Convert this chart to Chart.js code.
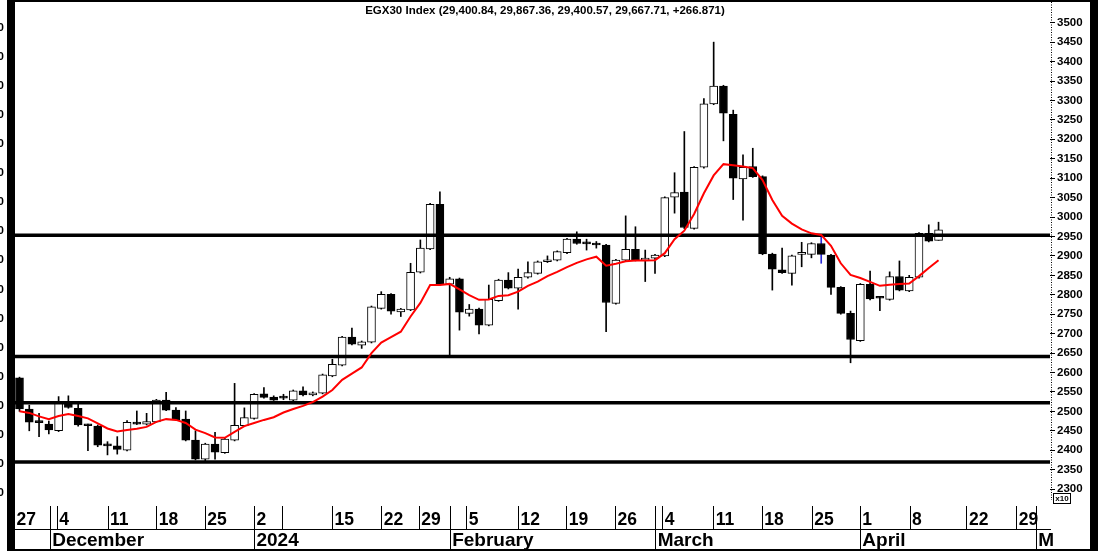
<!DOCTYPE html>
<html>
<head>
<meta charset="utf-8">
<script src="https://cdn.jsdelivr.net/npm/chart.js@4.4.1/dist/chart.umd.min.js"></script>
<style>
  html, body { margin: 0; padding: 0; background: #fff; }
</style>
</head>
<body>
<canvas id="myChart" width="1098" height="551"></canvas>
<script>
const titleText = "EGX30 Index (29,400.84, 29,867.36, 29,400.57, 29,667.71, +266.871)";

// daily candles, price in axis units (x10)
const openV = [
  2586, 2506, 2472, 2467, 2450, 2522, 2508, 2466, 2462, 2413,
  2411, 2400, 2472, 2467, 2473, 2529, 2503, 2480, 2426, 2377,
  2416, 2394, 2426, 2463, 2482, 2545, 2537, 2535, 2529, 2553,
  2542, 2547, 2591, 2619, 2691, 2670, 2678, 2765, 2801, 2756,
  2761, 2858, 2918, 3033, 2827, 2841, 2752, 2763, 2722, 2785,
  2838, 2817, 2845, 2855, 2885, 2889, 2908, 2943, 2932, 2929,
  2928, 2778, 2889, 2917, 2889, 2894, 2900, 3051, 3064, 2971,
  3128, 3291, 3337, 3264, 3098, 3130, 3104, 2905, 2864, 2855,
  2904, 2904, 2932, 2902, 2819, 2752, 2682, 2827, 2792, 2788,
  2847, 2810, 2845, 2958, 2940.08
];
const highV = [
  2588, 2516, 2495, 2475, 2538, 2540, 2521, 2467, 2465, 2422,
  2435, 2476, 2501, 2495, 2531, 2549, 2510, 2501, 2450, 2418,
  2446, 2431, 2572, 2509, 2546, 2561, 2540, 2544, 2555, 2563,
  2550, 2596, 2634, 2693, 2714, 2681, 2771, 2808, 2803, 2765,
  2881, 2941, 3035, 3065, 2845, 2843, 2775, 2766, 2825, 2840,
  2857, 2866, 2885, 2887, 2900, 2913, 2945, 2962, 2943, 2937,
  2930, 2891, 3003, 2975, 2915, 2904, 3052, 3114, 3220, 3130,
  3305, 3450, 3339, 3275, 3160, 3177, 3106, 2907, 2920, 2902,
  2935, 2934, 2949, 2904, 2821, 2758, 2829, 2861, 2794, 2859,
  2887, 2850, 2960, 2980, 2986.74
];
const lowV = [
  2500, 2450, 2435, 2442, 2448, 2508, 2462, 2399, 2409, 2388,
  2390, 2398, 2466, 2465, 2472, 2502, 2476, 2424, 2375, 2373,
  2377, 2392, 2424, 2461, 2480, 2534, 2528, 2530, 2527, 2540,
  2540, 2545, 2589, 2617, 2671, 2662, 2676, 2763, 2750, 2744,
  2759, 2856, 2916, 2825, 2645, 2709, 2745, 2699, 2720, 2783,
  2815, 2763, 2843, 2853, 2883, 2887, 2906, 2930, 2915, 2920,
  2705, 2776, 2887, 2887, 2834, 2855, 2898, 3010, 2970, 2969,
  3126, 3289, 3196, 3045, 2992, 3102, 2903, 2812, 2855, 2825,
  2872, 2895, 2881, 2801, 2750, 2625, 2680, 2787, 2759, 2786,
  2810, 2808, 2843, 2936, 2940.06
];
const closeV = [
  2506, 2472, 2471, 2452, 2525, 2510, 2465, 2463, 2413, 2411,
  2402, 2472, 2467, 2474, 2529, 2503, 2478, 2426, 2377, 2416,
  2395, 2429, 2464, 2484, 2544, 2536, 2529, 2534, 2553, 2542,
  2548, 2594, 2621, 2691, 2673, 2679, 2769, 2801, 2758, 2763,
  2858, 2920, 3033, 2827, 2841, 2755, 2763, 2722, 2788, 2838,
  2817, 2845, 2857, 2885, 2889, 2911, 2943, 2932, 2931, 2928,
  2780, 2889, 2917, 2889, 2894, 2902, 3050, 3063, 2973, 3128,
  3291, 3337, 3267, 3100, 3128, 3104, 2905, 2866, 2857, 2900,
  2904, 2932, 2904, 2819, 2752, 2685, 2827, 2789, 2791, 2847,
  2812, 2845, 2958, 2938, 2966.77
];
// red moving average
const maV = [
  2500, 2496, 2487, 2480, 2488, 2493, 2488, 2482, 2469, 2456,
  2448, 2452, 2455, 2460, 2473, 2480, 2478, 2470, 2453, 2444,
  2433, 2432, 2447, 2462, 2470, 2478, 2485, 2497, 2506, 2514,
  2524, 2538, 2555, 2581, 2597, 2613, 2650, 2677, 2691, 2705,
  2744, 2779, 2825, 2825, 2828, 2814, 2799, 2787, 2788, 2797,
  2799, 2808, 2823, 2834, 2848, 2859, 2871, 2882, 2891, 2898,
  2875, 2880, 2886, 2888, 2888, 2889, 2907, 2943, 2965, 3008,
  3061, 3107, 3136, 3133, 3130, 3126, 3095, 3044, 3003, 2983,
  2968, 2958, 2954, 2926, 2881, 2851, 2843, 2833, 2823, 2826,
  2828, 2829, 2848, 2869, 2889
];
// horizontal levels
const levels = [2953, 2641, 2522, 2370];

const priceTicks = [2300, 2350, 2400, 2450, 2500, 2550, 2600, 2650, 2700, 2750, 2800, 2850,
  2900, 2950, 3000, 3050, 3100, 3150, 3200, 3250, 3300, 3350, 3400, 3450, 3500];

const dateTickPos = [-0.5, 3.14, 3.86, 9.06, 14.04, 19.0, 24.03, 26.93, 32.02, 37.06, 40.89, 44.05, 45.74,
  51.05, 55.97, 60.95, 65.07, 65.8, 71.0, 75.98, 81.08, 86.0, 91.09, 96.91, 102.01, 104.0];
const dateTickLabels = ['27', '', '4', '11', '18', '25', '2', '', '15', '22', '29', '', '5',
  '12', '19', '26', '', '4', '11', '18', '25', '1', '8', '22', '29', ''];
const monthTickPos = [3.14, 24.03, 44.05, 65.07, 86.0, 104.0];
const monthTickLabels = ['December', '2024', 'February', 'March', 'April', 'M'];

const blueWick = 82;
const xMin = -0.46, xMax = 105.4;

Chart.defaults.font.family = "'Liberation Sans', Arial, sans-serif";
Chart.defaults.color = '#000';

const ctx = document.querySelector('#myChart');

const noPad = (s) => {
  s.paddingTop = 0; s.paddingBottom = 0; s.paddingLeft = 0; s.paddingRight = 0;
};

const framePlugin = {
  id: 'frame',
  afterDraw(chart) {
    const c = chart.ctx;
    c.save();
    c.fillStyle = '#000';
    c.fillRect(7, 0, 8, 551);
    c.fillRect(7, 0, 1091, 2);
    c.fillRect(1090, 0, 8, 551);
    c.fillRect(7, 549, 1091, 2);
    // dotted price axis line
    c.strokeStyle = '#000';
    c.lineWidth = 1;
    c.setLineDash([1, 1.5]);
    c.beginPath();
    c.moveTo(1051.5, 2);
    c.lineTo(1051.5, 500);
    c.stroke();
    c.setLineDash([]);
    // title
    c.font = "bold 11.5px 'Liberation Sans', Arial, sans-serif";
    c.textAlign = 'center';
    c.textBaseline = 'middle';
    c.fillText(titleText, 545, 11);
    // x10 box
    c.fillStyle = '#fff';
    c.fillRect(1053.5, 493.5, 17, 10);
    c.strokeRect(1053.5, 493.5, 17, 10);
    c.fillStyle = '#000';
    c.font = "bold 8px 'Liberation Sans', Arial, sans-serif";
    c.fillText('x10', 1062, 499);
    c.restore();
  }
};

const datasets = [
  {
    type: 'line',
    data: maV.map((v, i) => ({x: i, y: v})),
    borderColor: '#ff0000',
    borderWidth: 2,
    pointRadius: 0,
    tension: 0,
    order: 0
  },
  ...levels.map(l => ({
    type: 'line',
    data: [{x: xMin, y: l}, {x: xMax, y: l}],
    borderColor: '#000',
    borderWidth: 3.5,
    pointRadius: 0,
    order: 1
  })),
  {
    type: 'bar',
    data: openV.map((o, i) => ({x: i, y: [o, closeV[i]]})),
    backgroundColor: (c) => closeV[c.dataIndex] < openV[c.dataIndex] ? '#000' : '#fff',
    borderColor: '#000',
    borderWidth: 1,
    borderSkipped: false,
    barThickness: 8,
    minBarLength: 2,
    grouped: false,
    order: 2
  },
  {
    type: 'bar',
    data: lowV.map((l, i) => ({x: i, y: [l, highV[i]]})),
    backgroundColor: (c) => c.dataIndex === blueWick ? '#2b2bd6' : '#000',
    borderWidth: 0,
    barThickness: 1,
    grouped: false,
    order: 3
  }
];

new Chart(ctx, {
  type: 'bar',
  data: { datasets },
  plugins: [framePlugin],
  options: {
    responsive: false,
    animation: false,
    devicePixelRatio: 1,
    events: [],
    layout: { padding: { top: 3, left: 0, right: 0, bottom: 0 } },
    plugins: { legend: { display: false }, tooltip: { enabled: false }, title: { display: false } },
    scales: {
      x: {
        type: 'linear', position: 'bottom', min: xMin, max: xMax, offset: false, weight: 1,
        afterFit: (s) => { s.height = 23; noPad(s); },
        afterBuildTicks: (s) => { s.ticks = dateTickPos.map(v => ({value: v})); },
        grid: { drawOnChartArea: false, drawTicks: true, tickLength: 23, color: '#000', lineWidth: 1, offset: false },
        border: { display: false },
        ticks: {
          autoSkip: false, maxRotation: 0, minRotation: 0, align: 'start', labelOffset: 2, padding: -19,
          font: { size: 17.5, weight: 'bold' }, color: '#000',
          callback: (v, i) => dateTickLabels[i]
        }
      },
      x2: {
        type: 'linear', position: 'bottom', min: xMin, max: xMax, offset: false, weight: 2,
        afterFit: (s) => { s.height = 22; noPad(s); },
        afterBuildTicks: (s) => { s.ticks = monthTickPos.map(v => ({value: v})); },
        grid: { drawOnChartArea: false, drawTicks: true, tickLength: 22, color: '#000', lineWidth: 1, offset: false },
        border: { display: true, color: '#000', width: 1 },
        ticks: {
          autoSkip: false, maxRotation: 0, minRotation: 0, align: 'start', labelOffset: 2, padding: -22,
          font: { size: 19, weight: 'bold' }, color: '#000',
          callback: (v, i) => monthTickLabels[i]
        }
      },
      y: {
        type: 'linear', position: 'right', min: 2256.5, max: 3550.7,
        afterFit: (s) => { s.width = 48; noPad(s); },
        afterBuildTicks: (s) => { s.ticks = priceTicks.map(v => ({value: v})); },
        grid: { drawOnChartArea: false, drawTicks: true, tickLength: 5, color: '#000' },
        border: { display: false },
        ticks: { padding: 2, font: { size: 11.5, weight: 'bold' }, color: '#000', callback: (v) => String(v) }
      },
      yL: {
        type: 'linear', position: 'left', min: 0.09, max: 34.71,
        afterFit: (s) => { s.width = 15; noPad(s); },
        afterBuildTicks: (s) => {
          const t = [];
          for (let v = 1; v <= 34; v++) t.push({value: v});
          s.ticks = t;
        },
        grid: { display: false, drawTicks: false },
        border: { display: false },
        ticks: { padding: 11, font: { size: 11.5, weight: 'bold' }, color: '#000', callback: (v) => v + '0' }
      }
    }
  }
});
</script>
</body>
</html>
